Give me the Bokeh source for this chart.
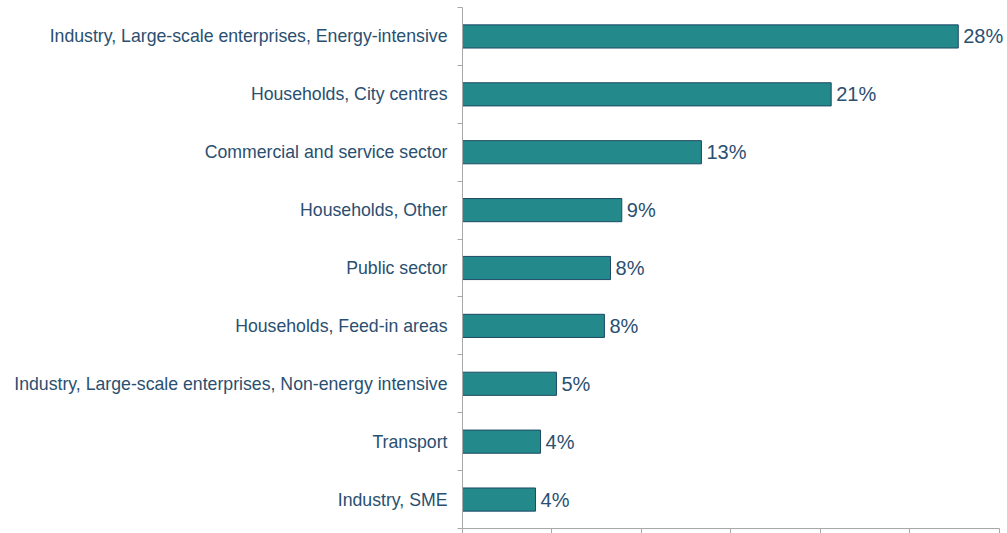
from bokeh.plotting import figure
from bokeh.models import Range1d, FixedTicker, CustomJSTickFormatter
from bokeh.core.properties import value
from bokeh.embed import file_html
from bokeh.resources import INLINE

categories = [
    "Industry, Large-scale enterprises, Energy-intensive",
    "Households, City centres",
    "Commercial and service sector",
    "Households, Other",
    "Public sector",
    "Households, Feed-in areas",
    "Industry, Large-scale enterprises, Non-energy intensive",
    "Transport",
    "Industry, SME",
]
shares = [27.7, 20.6, 13.35, 8.9, 8.27, 7.93, 5.25, 4.36, 4.08]
share_labels = ["28%", "21%", "13%", "9%", "8%", "8%", "5%", "4%", "4%"]
x_ticks = [0, 5, 10, 15, 20, 25, 30]

n = len(categories)
ypos = [i + 0.5 for i in range(n)]

TEXT_COLOR = "#2a4f70"
AXIS_COLOR = "#a8a8a8"

p = figure(
    width=1005, height=533,
    x_range=Range1d(0, 30.34), y_range=Range1d(n, 0),
    output_backend="svg", toolbar_location=None,
    min_border_left=462, min_border_right=0, min_border_top=7, min_border_bottom=4,
)
p.outline_line_color = None
p.xgrid.visible = False
p.ygrid.visible = False

p.hbar(y=ypos, left=0, right=shares, height=0.4,
       fill_color="#23898b", line_color="#1d4a66", line_width=1)

p.text(x=shares, y=ypos, text=share_labels, x_offset=5,
       text_align="left", text_baseline="middle",
       text_font=value("Liberation Sans"), text_font_size="20px",
       text_color=TEXT_COLOR)

# y axis: labels at band centres, ticks at band boundaries
yax = p.yaxis[0]
yax.ticker = FixedTicker(ticks=ypos, minor_ticks=list(range(n + 1)))
yax.major_label_overrides = {y: c for y, c in zip(ypos, categories)}
yax.major_tick_out = 0
yax.major_tick_in = 0
yax.minor_tick_out = 5
yax.minor_tick_in = 0
yax.major_label_standoff = 10
yax.major_label_text_font = "Liberation Sans"
yax.major_label_text_font_size = "17.7px"
yax.major_label_text_color = TEXT_COLOR
yax.axis_line_color = AXIS_COLOR
yax.minor_tick_line_color = AXIS_COLOR

# x axis: ticks only, no labels
xax = p.xaxis[0]
xax.ticker = FixedTicker(ticks=x_ticks, minor_ticks=[])
xax.formatter = CustomJSTickFormatter(code="return '';")
xax.bounds = (0, 30)
xax.major_tick_out = 5
xax.major_tick_in = 0
xax.minor_tick_out = 0
xax.major_label_standoff = 0
xax.axis_line_color = AXIS_COLOR
xax.major_tick_line_color = AXIS_COLOR

open("out.html", "w").write(file_html(p, INLINE))
